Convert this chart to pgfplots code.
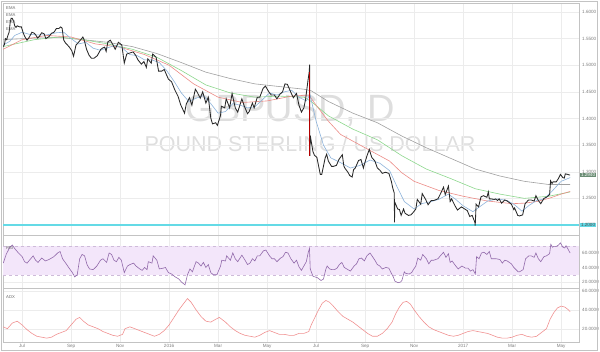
\documentclass[border=0pt]{standalone}
\usepackage{pgfplots}
\pgfplotsset{compat=1.18}
\usepackage{pgfplotstable}
\usepackage{fontspec}
\setmainfont{Liberation Sans}
\definecolor{gridc}{RGB}{236,236,236}
\definecolor{framec}{RGB}{195,195,195}
\definecolor{labc}{RGB}{125,125,125}
\definecolor{pricec}{RGB}{40,40,40}
\definecolor{emablue}{RGB}{140,178,218}
\definecolor{emared}{RGB}{236,140,135}
\definecolor{emagreen}{RGB}{140,215,140}
\definecolor{emagray}{RGB}{160,160,160}
\definecolor{rsic}{RGB}{145,105,170}
\definecolor{rsiband}{RGB}{243,230,250}
\definecolor{adxc}{RGB}{240,145,145}
\definecolor{cyanl}{RGB}{100,218,230}
\definecolor{lastc}{RGB}{105,140,115}
\definecolor{wmark}{RGB}{222,222,222}
\newcommand{\tickfont}{\fontsize{4.6}{5}\selectfont}

\pgfplotstableread{
m p
-0.77 1.5350
-0.72 1.5390
-0.68 1.5500
-0.63 1.5480
-0.58 1.5560
-0.53 1.5620
-0.49 1.5790
-0.45 1.5880
-0.40 1.5880
-0.35 1.5830
-0.30 1.5740
-0.25 1.5710
-0.20 1.5740
-0.10 1.5720
-0.03 1.5720
0.05 1.5600
0.12 1.5530
0.20 1.5470
0.27 1.5510
0.33 1.5560
0.40 1.5620
0.50 1.5600
0.57 1.5560
0.63 1.5510
0.70 1.5540
0.80 1.5610
0.90 1.5590
0.97 1.5500
1.10 1.5540
1.20 1.5600
1.30 1.5620
1.40 1.5690
1.50 1.5690
1.57 1.5720
1.63 1.5700
1.70 1.5470
1.77 1.5420
1.83 1.5390
1.93 1.5340
2.03 1.5270
2.10 1.5170
2.20 1.5380
2.30 1.5430
2.43 1.5500
2.48 1.5530
2.53 1.5480
2.63 1.5300
2.73 1.5190
2.83 1.5130
2.93 1.5130
3.07 1.5180
3.20 1.5290
3.27 1.5320
3.37 1.5340
3.43 1.5260
3.50 1.5440
3.60 1.5470
3.70 1.5390
3.80 1.5300
3.93 1.5430
4.07 1.5380
4.17 1.5040
4.27 1.5210
4.40 1.5230
4.53 1.5250
4.63 1.5190
4.73 1.5100
4.87 1.5020
4.97 1.5070
5.07 1.4960
5.13 1.5120
5.27 1.5040
5.33 1.5210
5.47 1.5150
5.57 1.4890
5.70 1.4890
5.80 1.4920
5.97 1.4740
6.10 1.4690
6.23 1.4540
6.37 1.4410
6.47 1.4260
6.57 1.4160
6.63 1.4100
6.70 1.4270
6.83 1.4390
6.93 1.4250
7.07 1.4550
7.14 1.4500
7.27 1.4380
7.37 1.4500
7.50 1.4290
7.60 1.4400
7.70 1.4010
7.77 1.3900
7.90 1.3920
7.97 1.3870
8.10 1.4060
8.13 1.4230
8.27 1.4200
8.33 1.4370
8.47 1.4200
8.57 1.4470
8.70 1.4200
8.80 1.4120
8.97 1.4370
9.07 1.4230
9.20 1.4090
9.27 1.4130
9.40 1.4290
9.47 1.4200
9.60 1.4400
9.70 1.4400
9.83 1.4560
9.93 1.4610
10.07 1.4500
10.17 1.4440
10.30 1.4440
10.40 1.4370
10.53 1.4460
10.63 1.4500
10.73 1.4650
10.83 1.4640
10.97 1.4490
11.07 1.4390
11.20 1.4470
11.30 1.4250
11.40 1.4120
11.50 1.4200
11.57 1.4360
11.67 1.4720
11.72 1.4880
11.735 1.5010
11.745 1.3300
11.76 1.3680
11.87 1.3380
11.93 1.3310
12.03 1.3270
12.17 1.2950
12.23 1.2950
12.37 1.3260
12.43 1.3330
12.50 1.3200
12.63 1.3100
12.70 1.3100
12.83 1.3120
12.93 1.3230
13.07 1.3320
13.13 1.3110
13.17 1.3070
13.30 1.2990
13.37 1.2930
13.47 1.2900
13.53 1.3040
13.60 1.3070
13.73 1.3210
13.83 1.3230
13.93 1.3070
13.97 1.3140
14.07 1.3290
14.17 1.3420
14.23 1.3330
14.27 1.3270
14.40 1.3200
14.50 1.3070
14.60 1.3030
14.70 1.2970
14.83 1.2990
14.97 1.2970
15.07 1.2820
15.13 1.2690
15.19 1.2600
15.20 1.2050
15.21 1.2430
15.33 1.2300
15.40 1.2290
15.47 1.2180
15.57 1.2300
15.63 1.2220
15.77 1.2180
15.87 1.2190
15.97 1.2240
16.07 1.2300
16.13 1.2480
16.27 1.2390
16.33 1.2590
16.47 1.2480
16.57 1.2380
16.70 1.2460
16.80 1.2460
16.97 1.2490
17.07 1.2580
17.20 1.2710
17.27 1.2570
17.40 1.2730
17.47 1.2440
17.53 1.2490
17.67 1.2360
17.77 1.2280
17.93 1.2340
18.10 1.2290
18.17 1.2270
18.27 1.2160
18.37 1.2180
18.48 1.2050
18.49 1.1990
18.50 1.2050
18.53 1.2390
18.63 1.2340
18.73 1.2530
18.83 1.2550
18.97 1.2520
19.03 1.2620
19.07 1.2490
19.14 1.2490
19.27 1.2480
19.33 1.2490
19.40 1.2460
19.47 1.2490
19.57 1.2410
19.70 1.2470
19.80 1.2450
19.97 1.2390
20.07 1.2290
20.10 1.2320
20.23 1.2180
20.30 1.2170
20.43 1.2190
20.53 1.2400
20.67 1.2470
20.77 1.2470
20.90 1.2450
20.97 1.2550
21.07 1.2460
21.17 1.2400
21.30 1.2500
21.40 1.2520
21.53 1.2570
21.57 1.2830
21.63 1.2780
21.67 1.2810
21.80 1.2810
21.90 1.2880
21.97 1.2950
22.07 1.2890
22.13 1.2880
22.17 1.2960
22.27 1.2950
22.33 1.2940
22.37 1.2940
}\pricedata

\pgfplotstableread{
m v
-0.77 1.548
0.5 1.551
1.5 1.552
2.5 1.548
3.5 1.543
4.5 1.535
5.5 1.522
6.5 1.505
7.5 1.487
8.5 1.475
9.5 1.465
10.5 1.460
11.5 1.455
11.8 1.452
12.5 1.432
13.5 1.410
14.5 1.392
15.5 1.367
16.5 1.345
17.5 1.325
18.5 1.305
19.5 1.292
20.5 1.282
21.5 1.276
22.37 1.276
}\emagraydata

\pgfplotstableread{
m v
-0.77 1.535
0.5 1.548
1.5 1.553
2.5 1.548
3.5 1.540
4.5 1.530
5.5 1.515
6.5 1.490
7.5 1.463
8.5 1.448
9.5 1.440
10.5 1.442
11.5 1.440
11.8 1.432
12.5 1.405
13.5 1.380
14.5 1.360
15.5 1.330
16.5 1.305
17.5 1.287
18.5 1.268
19.5 1.258
20.5 1.250
21.5 1.254
22.37 1.262
}\emagreendata

\pgfplotstableread{
m v
-0.77 1.530
0.0 1.548
1.0 1.556
2.0 1.553
3.0 1.540
4.0 1.534
5.0 1.520
6.0 1.500
7.0 1.465
8.0 1.440
9.0 1.430
10.0 1.433
11.0 1.442
11.7 1.444
12.0 1.425
12.5 1.395
13.0 1.370
14.0 1.345
15.0 1.320
15.5 1.298
16.0 1.282
17.0 1.265
18.0 1.254
19.0 1.245
20.0 1.240
20.5 1.241
21.0 1.244
21.5 1.250
22.0 1.258
22.37 1.263
}\emareddata

\pgfplotstableread{
m v
-0.77 1.538
-0.5 1.545
-0.3 1.556
0.0 1.562
0.3 1.558
0.6 1.557
1.0 1.557
1.4 1.561
1.7 1.562
2.0 1.550
2.3 1.540
2.6 1.543
2.9 1.532
3.2 1.528
3.5 1.533
3.8 1.537
4.1 1.532
4.4 1.520
4.7 1.518
5.0 1.510
5.3 1.510
5.6 1.505
5.9 1.490
6.2 1.470
6.5 1.448
6.8 1.432
7.1 1.438
7.4 1.443
7.7 1.428
8.0 1.410
8.3 1.413
8.6 1.428
8.9 1.425
9.2 1.420
9.5 1.422
9.8 1.435
10.1 1.448
10.4 1.444
10.7 1.450
11.0 1.453
11.3 1.440
11.6 1.433
11.75 1.445
12.0 1.395
12.3 1.350
12.6 1.326
13.0 1.317
13.4 1.307
13.8 1.312
14.2 1.322
14.6 1.316
15.0 1.302
15.3 1.272
15.6 1.244
16.0 1.230
16.3 1.240
16.7 1.244
17.0 1.248
17.4 1.258
17.7 1.248
18.0 1.236
18.4 1.225
18.7 1.235
19.0 1.245
19.4 1.249
19.8 1.246
20.1 1.238
20.4 1.226
20.7 1.237
21.0 1.246
21.3 1.249
21.6 1.262
22.0 1.282
22.37 1.289
}\emabluedata

\pgfplotstableread{
m r
-0.77 46
-0.65 58
-0.5 68
-0.4 71
-0.3 66
-0.15 60
0.0 55
0.1 48
0.2 46
0.35 52
0.45 56
0.55 50
0.65 47
0.8 53
0.95 49
1.1 51
1.3 55
1.45 60
1.55 62
1.65 52
1.8 45
1.9 40
2.05 33
2.15 27
2.25 30
2.35 52
2.45 58
2.55 56
2.65 44
2.75 38
2.9 37
3.05 42
3.2 50
3.3 52
3.45 47
3.55 60
3.65 58
3.75 50
3.85 48
3.95 54
4.05 50
4.17 33
4.3 42
4.4 44
4.55 46
4.65 42
4.8 38
4.9 36
5.0 40
5.1 37
5.15 48
5.3 46
5.35 56
5.5 50
5.6 38
5.75 39
5.85 40
5.97 33
6.1 31
6.25 27
6.4 24
6.5 20
6.65 16
6.75 30
6.85 38
6.95 34
7.1 48
7.2 46
7.3 42
7.4 47
7.5 40
7.6 44
7.7 33
7.8 30
7.95 30
8.1 42
8.15 50
8.3 49
8.35 56
8.5 50
8.6 60
8.7 52
8.8 48
8.97 57
9.1 50
9.2 44
9.3 46
9.4 52
9.5 49
9.6 56
9.7 56
9.85 63
9.95 64
10.1 56
10.2 52
10.3 52
10.4 48
10.55 53
10.65 55
10.75 61
10.85 60
10.97 52
11.1 46
11.2 50
11.3 41
11.4 36
11.5 42
11.6 48
11.68 61
11.73 66
11.76 38
11.87 28
11.95 27
12.05 26
12.2 22
12.3 24
12.4 38
12.45 42
12.55 38
12.65 37
12.75 37
12.85 39
12.95 44
13.05 47
13.15 40
13.3 37
13.4 35
13.55 42
13.65 45
13.75 52
13.85 53
13.97 49
14.07 56
14.2 60
14.3 55
14.4 50
14.5 44
14.6 42
14.7 38
14.85 40
14.97 39
15.07 32
15.15 27
15.22 21
15.35 19
15.45 20
15.5 22
15.6 34
15.65 32
15.8 31
15.9 33
15.97 37
16.07 42
16.15 53
16.27 50
16.35 58
16.5 52
16.6 45
16.7 50
16.8 50
16.97 52
17.07 56
17.2 61
17.3 54
17.4 59
17.47 47
17.55 49
17.7 42
17.8 38
17.95 42
18.1 39
18.2 39
18.3 35
18.4 37
18.5 31
18.55 55
18.65 52
18.75 60
18.85 61
18.97 58
19.07 62
19.15 52
19.3 52
19.35 52
19.5 51
19.6 46
19.7 50
19.8 49
19.97 45
20.07 40
20.25 34
20.3 34
20.45 37
20.55 52
20.68 56
20.78 56
20.9 54
20.97 60
21.07 52
21.17 48
21.3 55
21.4 56
21.53 59
21.58 72
21.65 68
21.7 69
21.8 69
21.9 71
21.97 74
22.07 68
22.15 67
22.2 70
22.27 66
22.35 61
22.37 60
}\rsidata

\pgfplotstableread{
m a
-0.77 22
-0.6 20
-0.4 26
-0.2 28
0.0 24
0.2 19
0.4 15
0.6 12
0.8 11
1.0 10
1.2 11
1.4 14
1.6 16
1.8 18
2.0 24
2.2 30
2.35 32
2.5 28
2.7 24
2.9 22
3.1 20
3.3 17
3.5 15
3.7 13
3.9 12
4.1 14
4.2 20
4.4 22
4.6 20
4.8 18
5.0 16
5.2 14
5.4 12
5.6 14
5.8 18
6.0 24
6.2 32
6.4 40
6.6 47
6.75 52
6.9 48
7.1 40
7.3 33
7.5 28
7.7 27
7.9 30
8.05 32
8.3 27
8.5 22
8.7 18
8.9 15
9.1 13
9.3 12
9.5 11
9.7 13
9.9 16
10.1 18
10.3 16
10.5 14
10.7 14
10.9 13
11.1 13
11.3 15
11.5 15
11.7 17
11.8 24
11.95 32
12.1 40
12.25 47
12.4 50
12.55 48
12.7 44
12.9 38
13.1 33
13.3 30
13.5 27
13.7 23
13.9 19
14.1 15
14.3 12
14.5 12
14.7 15
14.9 20
15.1 27
15.25 36
15.4 43
15.55 48
15.7 49
15.85 46
16.0 40
16.2 33
16.4 27
16.6 22
16.8 19
17.0 17
17.2 15
17.4 13
17.6 12
17.8 13
18.0 15
18.2 17
18.4 18
18.6 17
18.8 16
19.0 15
19.2 13
19.4 11
19.6 10
19.8 10
20.0 11
20.2 13
20.4 14
20.6 12
20.8 11
21.0 12
21.2 16
21.4 20
21.55 30
21.7 37
21.85 42
22.0 44
22.15 43
22.3 40
22.37 38
}\adxdata

\pgfplotsset{panel/.style={
  scale only axis, width=576pt, anchor=south west,
  xmin=-0.78, xmax=22.73,
  axis line style={framec, line width=0.4pt},
  grid=major, major grid style={gridc, line width=0.4pt},
  major tick length=0pt,
  xtick={0,2,4,6,8,10,12,14,16,18,20,22},
  yticklabel pos=right,
  yticklabel style={font=\tickfont, text=labc, anchor=west, inner sep=0pt, xshift=3pt,
    /pgf/number format/.cd, fixed, fixed zerofill, precision=4},
  /pgf/number format/assume math mode=true,
  clip mode=individual,
}}

\begin{document}
\begin{tikzpicture}[x=1pt,y=1pt]
\node[text=wmark, font=\fontsize{38}{40}\selectfont] at (290pt,241pt) {GBPUSD, D};
\node[text=wmark, font=\fontsize{21.5}{24}\selectfont] at (310pt,208pt) {POUND STERLING / US DOLLAR};

% main price panel
\begin{axis}[panel, at={(3pt,117pt)}, height=232pt,
  ymin=1.1812, ymax=1.6169,
  ytick={1.2,1.25,1.3,1.35,1.4,1.45,1.5,1.55,1.6},
  xticklabels={}]
\addplot[cyanl, line width=1.7pt] coordinates {(-0.78,1.2) (22.73,1.2)};
\addplot[emagray, line width=0.6pt] table[x=m,y=v] {\emagraydata};
\addplot[emagreen, line width=0.6pt] table[x=m,y=v] {\emagreendata};
\addplot[emared, line width=0.6pt] table[x=m,y=v] {\emareddata};
\addplot[emablue, line width=0.6pt] table[x=m,y=v] {\emabluedata};
\addplot[pricec, line width=0.85pt] table[x=m,y=p] {\pricedata};
\addplot[red!70!black, line width=0.9pt] coordinates {(11.745,1.488) (11.745,1.330)};
\node[anchor=west, fill=lastc, text=white, font=\tickfont, inner sep=0.8pt, xshift=1pt] at (axis cs:22.73,1.294) {1.2940};
\node[anchor=west, fill=cyanl, text=black!70, font=\tickfont, inner sep=0.8pt, xshift=1pt] at (axis cs:22.73,1.2) {1.2000};
\end{axis}

% RSI panel
\begin{axis}[panel, at={(3pt,64pt)}, height=53pt,
  ymin=11.7, ymax=84.8, ytick={20,40,60}, xticklabels={}]
\fill[rsiband] (axis cs:-0.78,30) rectangle (axis cs:22.73,70);
\draw[rsic!45, dashed, line width=0.3pt] (axis cs:-0.78,70) -- (axis cs:22.73,70);
\draw[rsic!45, dashed, line width=0.3pt] (axis cs:-0.78,30) -- (axis cs:22.73,30);
\addplot[rsic, line width=0.6pt] table[x=m,y=r] {\rsidata};
\end{axis}

% ADX panel
\begin{axis}[panel, at={(3pt,10pt)}, height=54pt,
  ymin=5.9, ymax=63.2, ytick={20,40,60},
  xticklabels={Jul,Sep,Nov,2016,Mar,May,Jul,Sep,Nov,2017,Mar,May},
  xticklabel style={font=\tickfont, text=labc, inner sep=0pt, yshift=-2pt}]
\addplot[adxc, line width=0.6pt] table[x=m,y=a] {\adxdata};
\end{axis}

% labels
\foreach \yy in {344,337,330,323} {\node[anchor=west, font=\fontsize{4.2}{5}\selectfont, text=black!60, inner sep=0pt] at (6pt,\yy pt) {EMA};}
\node[anchor=west, font=\fontsize{4.2}{5}\selectfont, text=black!60, inner sep=0pt] at (6pt,104pt) {RSI};
\node[anchor=west, font=\fontsize{4.2}{5}\selectfont, text=black!60, inner sep=0pt] at (6pt,55pt) {ADX};

\draw[framec, line width=0.4pt] (1pt,2pt) rectangle (597.5pt,351pt);
\pgfresetboundingbox
\path (0pt,0pt) rectangle (600pt,352pt);
\end{tikzpicture}
\end{document}
